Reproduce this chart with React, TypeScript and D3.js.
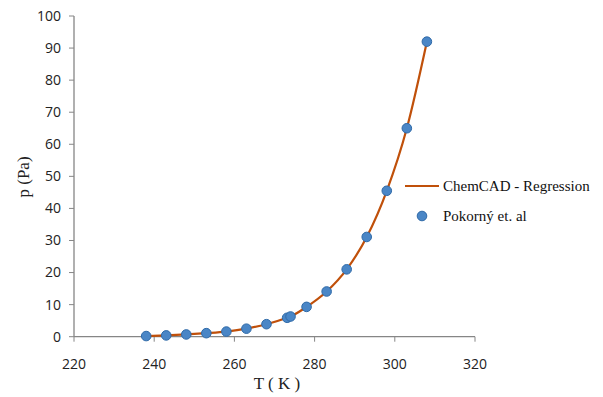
import React from "react";
import * as d3 from "d3";

const temps = [238, 243, 248, 253, 258, 263, 268, 273.15, 274, 278, 283, 288, 293, 298, 303, 308];
const pressures = [0.2, 0.4, 0.7, 1.1, 1.6, 2.5, 3.9, 5.9, 6.3, 9.3, 14.1, 21.0, 31.1, 45.5, 65.0, 92.0];
const xTicks = [220, 240, 260, 280, 300, 320];
const yTicks = [0, 10, 20, 30, 40, 50, 60, 70, 80, 90, 100];
const lineLabel = "ChemCAD - Regression";
const pointLabel = "Pokorný et. al";

export default function App() {
  const W = 603, H = 397;
  const x = d3.scaleLinear().domain([220, 320]).range([74, 475]);
  const y = d3.scaleLinear().domain([0, 100]).range([336.7, 16]);
  const pts: [number, number][] = temps.map((t, i) => [t, pressures[i]]);
  const line = d3
    .line<[number, number]>()
    .x((d) => x(d[0]))
    .y((d) => y(d[1]))
    .curve(d3.curveMonotoneX);
  const axisColor = "#868686";
  const tickFont = "'Open Sans', 'Noto Sans', sans-serif";
  const serif = "'Liberation Serif', 'Times New Roman', serif";
  const lineColor = "#C0500A";
  return (
    <svg width={W} height={H} style={{ position: "absolute", left: 0, top: 0, background: "#fff" }}>
      {/* axes */}
      <line x1={x(220)} x2={x(220)} y1={y(100)} y2={y(0)} stroke={axisColor} strokeWidth={1.3} />
      <line x1={x(220)} x2={x(320)} y1={y(0)} y2={y(0)} stroke={axisColor} strokeWidth={1.3} />
      {yTicks.map((t) => (
        <g key={"y" + t}>
          <line x1={x(220) - 5} x2={x(220)} y1={y(t)} y2={y(t)} stroke={axisColor} strokeWidth={1} />
          <text x={61} y={y(t)} dy="0.35em" textAnchor="end" fontFamily={tickFont} fontSize={14} fill="#222">
            {t}
          </text>
        </g>
      ))}
      {xTicks.map((t) => (
        <g key={"x" + t}>
          <line x1={x(t)} x2={x(t)} y1={y(0)} y2={y(0) + 5} stroke={axisColor} strokeWidth={1} />
          <text x={x(t)} y={364} dy="0.35em" textAnchor="middle" fontFamily={tickFont} fontSize={14} fill="#222">
            {t}
          </text>
        </g>
      ))}
      {/* axis titles */}
      <text
        transform={`translate(29,177) rotate(-90)`}
        textAnchor="middle"
        fontFamily={serif}
        fontSize={17}
        fill="#222"
      >
        p (Pa)
      </text>
      <text x={277} y={389} textAnchor="middle" fontFamily={serif} fontSize={17} fill="#222">
        T ( K )
      </text>
      {/* curve */}
      <path d={line(pts) || ""} fill="none" stroke={lineColor} strokeWidth={2.2} />
      {/* points */}
      {pts.map((d, i) => (
        <circle key={i} cx={x(d[0])} cy={y(d[1])} r={4.8} fill="#4A86C6" stroke="#2F6AA8" strokeWidth={1} />
      ))}
      {/* legend */}
      <line x1={405} x2={439} y1={186} y2={186} stroke={lineColor} strokeWidth={2.2} />
      <text x={443} y={186} dy="0.35em" fontFamily={serif} fontSize={15} fill="#111">
        {lineLabel}
      </text>
      <circle cx={422} cy={216} r={4.8} fill="#4A86C6" stroke="#2F6AA8" strokeWidth={1} />
      <text x={443} y={216} dy="0.35em" fontFamily={serif} fontSize={15} fill="#111">
        {pointLabel}
      </text>
    </svg>
  );
}
